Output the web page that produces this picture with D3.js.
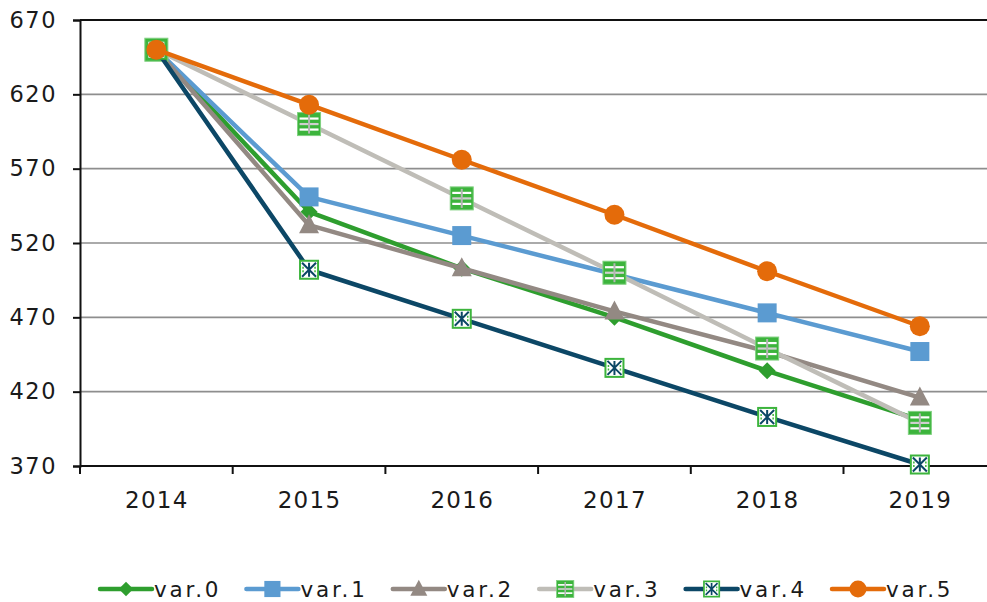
<!DOCTYPE html>
<html>
<head>
<meta charset="utf-8">
<script src="https://cdn.jsdelivr.net/npm/d3@7/dist/d3.min.js"></script>
<style>
  html, body { margin: 0; padding: 0; background: #fff; }
  svg { display: block; }
  text { font-family: "DejaVu Sans", Verdana, sans-serif; fill: #1a1a1a; }
</style>
</head>
<body>
<svg id="chart" width="987" height="602"></svg>
<script>
const years = ["2014", "2015", "2016", "2017", "2018", "2019"];
const seriesNames = ["var.0", "var.1", "var.2", "var.3", "var.4", "var.5"];
const var0 = [650, 541, 503, 470, 434, 401];
const var1 = [650, 551, 525, 499, 473, 447];
const var2 = [650, 532, 503, 474, 447, 416];
const var3 = [650, 600, 550, 500, 449, 399];
const var4 = [650, 502, 469, 436, 403, 371];
const var5 = [650, 613, 576, 539, 501, 464];
const yTicks = [370, 420, 470, 520, 570, 620, 670];
const colors = ["#2e9e2e", "#5b9bd1", "#938983", "#bfbdb7", "#0c4766", "#e46b0a"];
const markerTypes = ["diamond", "square", "triangle", "grid", "xbox", "circle"];

const allValues = [var0, var1, var2, var3, var4, var5];
const series = seriesNames.map((n, i) => ({ name: n, values: allValues[i], color: colors[i], marker: markerTypes[i] }));

const svg = d3.select("#chart");
const pLeft = 80, pRight = 996.2, pTop = 20, pBottom = 466;

const x = d3.scaleBand().domain(years).range([pLeft, pRight]);
const xc = d => x(d) + x.bandwidth() / 2;
const y = d3.scaleLinear().domain([370, 670]).range([pBottom, pTop]);

// gridlines
svg.append("g").selectAll("line").data(yTicks.filter(t => t !== 370)).join("line")
  .attr("x1", pLeft).attr("x2", 987)
  .attr("y1", d => y(d)).attr("y2", d => y(d))
  .attr("stroke", d => d === 670 ? "#111" : "#8e8e8e")
  .attr("stroke-width", d => d === 670 ? 2 : 1.6);

// y axis
const yAxis = svg.append("g").attr("transform", `translate(${pLeft},0)`)
  .call(d3.axisLeft(y).tickValues(yTicks).tickSize(7).tickPadding(16).tickFormat(d3.format("d")));
yAxis.select(".domain").attr("stroke", "#111").attr("stroke-width", 2);
yAxis.selectAll(".tick line").attr("stroke", "#111").attr("stroke-width", 2);
yAxis.selectAll("text").attr("font-size", 22.5).attr("letter-spacing", 1.5)
  .attr("fill", "#1a1a1a").style("font-family", "'DejaVu Sans', Verdana, sans-serif");

// x axis
const tickPos = years.map(d => x(d)).concat([pRight]);
const xAxisG = svg.append("g");
xAxisG.append("line").attr("x1", pLeft).attr("x2", 987).attr("y1", pBottom).attr("y2", pBottom)
  .attr("stroke", "#111").attr("stroke-width", 2);
xAxisG.selectAll("line.tk").data(tickPos).join("line").attr("class", "tk")
  .attr("x1", d => d).attr("x2", d => d).attr("y1", pBottom).attr("y2", pBottom + 8)
  .attr("stroke", "#111").attr("stroke-width", 2);
xAxisG.selectAll("text").data(years).join("text")
  .attr("x", d => xc(d) + 0.5).attr("y", 508.3)
  .attr("text-anchor", "middle").attr("font-size", 23).attr("letter-spacing", 1.3)
  .text(d => d);

// marker drawing
function drawMarker(g, type, color, cx, cy, scale) {
  const s = scale || 1;
  const m = g.append("g").attr("transform", `translate(${cx},${cy}) scale(${s})`);
  if (type === "diamond") {
    m.append("path").attr("d", "M0,-8.5L8.5,0L0,8.5L-8.5,0Z").attr("fill", color);
  } else if (type === "square") {
    m.append("rect").attr("x", -9.5).attr("y", -9.5).attr("width", 19).attr("height", 19).attr("fill", color);
  } else if (type === "triangle") {
    m.append("path").attr("d", "M0,-11L10,8L-10,8Z").attr("fill", color);
  } else if (type === "circle") {
    m.append("circle").attr("r", 10).attr("fill", color);
  } else if (type === "grid") {
    const h = 11.5;
    m.append("rect").attr("x", -h).attr("y", -h).attr("width", 2 * h).attr("height", 2 * h)
      .attr("fill", "#3cb43c").attr("stroke", "#7fd07f").attr("stroke-width", 1);
    [-5.5, 5.5].forEach(yy => m.append("line").attr("x1", -h + 2).attr("x2", h - 2).attr("y1", yy).attr("y2", yy)
      .attr("stroke", "#fff").attr("stroke-width", 2.2));
    m.append("line").attr("x1", -h + 2).attr("x2", h - 2).attr("y1", 0).attr("y2", 0)
      .attr("stroke", "#cfcfcf").attr("stroke-width", 2.2);
    m.append("line").attr("x1", 0).attr("x2", 0).attr("y1", -h + 2).attr("y2", h - 2)
      .attr("stroke", "#b5b5b5").attr("stroke-width", 2);
  } else if (type === "xbox") {
    const h = 9;
    m.append("rect").attr("x", -h).attr("y", -h).attr("width", 2 * h).attr("height", 2 * h)
      .attr("fill", "#fff").attr("stroke", "#3cb43c").attr("stroke-width", 2);
    m.append("path").attr("d", `M${-h + 2},${-h + 2}L${h - 2},${h - 2}M${h - 2},${-h + 2}L${-h + 2},${h - 2}M0,${-h + 2}L0,${h - 2}`)
      .attr("stroke", color).attr("stroke-width", 2);
    m.append("path").attr("d", `M${-h + 3},-3L${-h + 3},3M${h - 3},-3L${h - 3},3`)
      .attr("stroke", "#3cb43c").attr("stroke-width", 1.5).attr("stroke-dasharray", "2,1.5");
  }
}

const line = d3.line().x((d, i) => xc(years[i])).y(d => y(d));

series.forEach(s => {
  const g = svg.append("g");
  g.append("path").attr("d", line(s.values)).attr("fill", "none")
    .attr("stroke", s.color).attr("stroke-width", 4.5).attr("stroke-linejoin", "round");
  s.values.forEach((v, i) => drawMarker(g, s.marker, s.color, xc(years[i]), y(v)));
});

// legend
const legend = svg.append("g");
series.forEach((s, i) => {
  const lx = 100 + i * 146.4;
  const ly = 589;
  const g = legend.append("g");
  g.append("line").attr("x1", lx).attr("x2", lx + 52).attr("y1", ly).attr("y2", ly)
    .attr("stroke", s.color).attr("stroke-width", 4.5).attr("stroke-linecap", "round");
  drawMarker(g, s.marker, s.color, lx + 26, ly, s.marker === "grid" ? 0.75 : 0.85);
  g.append("text").attr("x", lx + 54).attr("y", 597.3).attr("font-size", 21.5).attr("letter-spacing", 2.8)
    .text(s.name);
});
</script>
</body>
</html>
